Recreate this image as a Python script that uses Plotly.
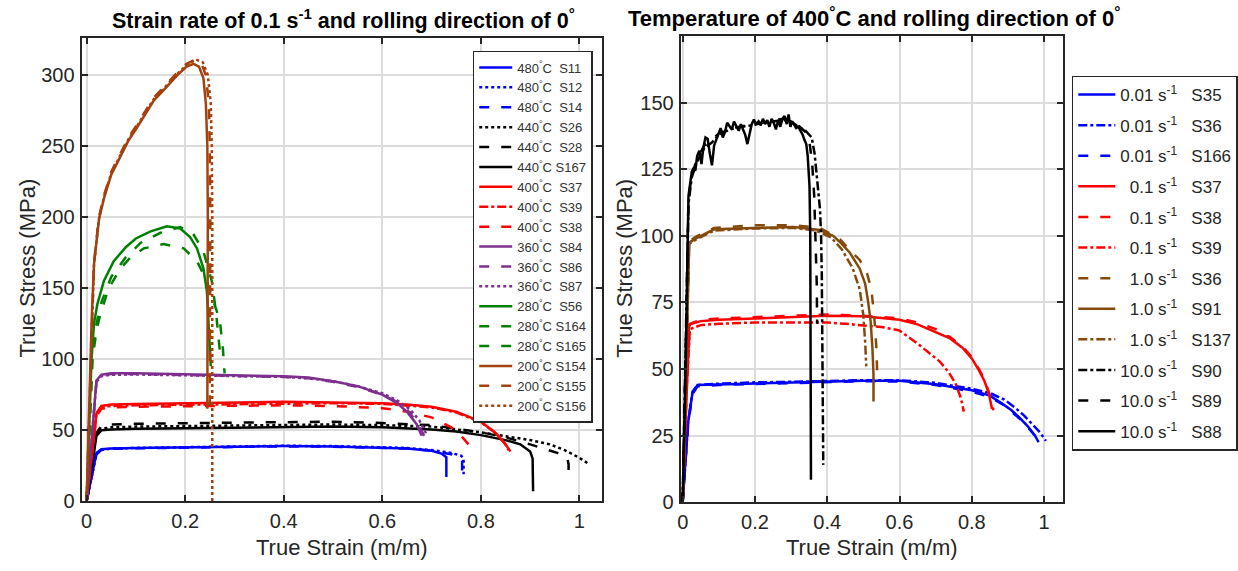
import plotly.graph_objects as go

# ---------------- DATA: left panel (strain rate 0.1 s^-1) ----------------
L_S11_x = [0, 0.02, 0.03, 0.05, 0.1, 0.2, 0.3, 0.4, 0.5, 0.6, 0.65, 0.7, 0.72, 0.73, 0.73]
L_S11_y = [0, 34, 36.5, 37, 37.5, 38, 38.5, 38.8, 38.5, 37.8, 37, 35.5, 33.5, 31, 17]
L_S12_x = [0, 0.02, 0.03, 0.05, 0.1, 0.2, 0.3, 0.4, 0.5, 0.6, 0.65, 0.7, 0.74, 0.76, 0.765, 0.765]
L_S12_y = [0, 33, 36, 37, 37.5, 38, 38.5, 39, 38.8, 38.2, 37.5, 36, 34, 32, 30, 19]
L_S14_x = [0, 0.02, 0.03, 0.05, 0.1, 0.2, 0.3, 0.4, 0.5, 0.6, 0.65, 0.7, 0.74, 0.758, 0.762, 0.762]
L_S14_y = [0, 33, 36, 36.8, 37.2, 37.8, 38.3, 38.6, 38.4, 37.8, 37, 35.5, 33, 31, 28, 21]
L_S26_x = [0, 0.02, 0.03, 0.05, 0.1, 0.2, 0.3, 0.4, 0.5, 0.6, 0.7, 0.8, 0.85, 0.9, 0.94, 0.97, 1.0, 1.02]
L_S26_y = [0, 47, 51, 52, 52.5, 53, 53.5, 54, 54, 53.5, 52.5, 48.5, 46, 43, 40, 36, 30.5, 26]
L_S28_x = [0, 0.02, 0.03, 0.05, 0.1, 0.2, 0.3, 0.4, 0.5, 0.6, 0.7, 0.8, 0.85, 0.9, 0.93, 0.955, 0.97, 0.976, 0.978, 0.978]
L_S28_y = [0, 48, 53, 54, 54.5, 55, 55.5, 56, 56, 55, 53.5, 48.5, 45, 40, 37, 34, 31.5, 29.5, 26, 18]
L_S167_x = [0, 0.02, 0.03, 0.05, 0.1, 0.2, 0.3, 0.4, 0.5, 0.6, 0.7, 0.75, 0.8, 0.85, 0.88, 0.9, 0.905, 0.906]
L_S167_y = [0, 46, 50, 50.5, 51, 51.5, 52, 52.5, 52.5, 52, 50.5, 49, 46.5, 43, 40, 35, 30, 7]
L_S37_x = [0, 0.02, 0.03, 0.05, 0.1, 0.2, 0.3, 0.4, 0.5, 0.6, 0.65, 0.7, 0.75, 0.8, 0.83, 0.85, 0.86]
L_S37_y = [0, 62, 67, 68, 68.5, 69, 69.5, 70, 69.5, 69, 68, 66.5, 63, 56, 48, 40, 35]
L_S39_x = [0, 0.02, 0.03, 0.05, 0.1, 0.2, 0.3, 0.4, 0.5, 0.6, 0.65, 0.7, 0.75, 0.8, 0.83, 0.848, 0.856]
L_S39_y = [0, 61, 66, 67, 67.5, 68, 68.5, 69, 69, 68.5, 67.5, 66, 62.5, 55.5, 48, 41, 36]
L_S38_x = [0, 0.02, 0.03, 0.05, 0.1, 0.2, 0.3, 0.4, 0.5, 0.6, 0.65, 0.7, 0.74, 0.76, 0.775, 0.78]
L_S38_y = [0, 60, 65, 66, 66.5, 67, 67.5, 67.5, 67, 65.5, 63, 59, 52, 46, 40, 37]
L_S84_x = [0, 0.02, 0.03, 0.05, 0.1, 0.2, 0.3, 0.4, 0.45, 0.5, 0.55, 0.6, 0.63, 0.65, 0.67, 0.68]
L_S84_y = [0, 85, 89, 90, 90, 89.5, 89, 88, 87, 84.5, 81, 75, 69, 63, 54, 46]
L_S86_x = [0, 0.02, 0.03, 0.05, 0.1, 0.2, 0.3, 0.4, 0.45, 0.5, 0.55, 0.6, 0.63, 0.65, 0.67, 0.685]
L_S86_y = [0, 84, 88.5, 89.5, 89.5, 89, 88.5, 87.5, 86.5, 84, 80.5, 75, 70, 64.5, 56, 46]
L_S87_x = [0, 0.02, 0.03, 0.05, 0.1, 0.2, 0.3, 0.4, 0.45, 0.5, 0.55, 0.6, 0.63, 0.655, 0.675, 0.69]
L_S87_y = [0, 84, 88, 89, 89.2, 88.8, 88.3, 87.5, 86.5, 84.5, 81, 76, 71, 65, 57, 47]
L_S56_x = [0, 0.01, 0.015, 0.022, 0.035, 0.055, 0.08, 0.1, 0.13, 0.163, 0.19, 0.21, 0.224, 0.237, 0.244, 0.248, 0.252]
L_S56_y = [0, 100, 125, 139, 155, 169, 179, 185, 190, 193.5, 192, 186, 178, 164, 148, 125, 95]
L_S164_x = [0, 0.012, 0.02, 0.028, 0.045, 0.069, 0.09, 0.116, 0.156, 0.197, 0.224, 0.244, 0.257, 0.27, 0.276, 0.28]
L_S164_y = [0, 100, 120, 132, 150, 164, 172, 178, 181, 178, 169, 155, 141, 128, 110, 90]
L_S165_x = [0, 0.012, 0.02, 0.03, 0.05, 0.08, 0.11, 0.15, 0.19, 0.215, 0.237, 0.254, 0.262, 0.268, 0.272]
L_S165_y = [0, 105, 125, 140, 158, 172, 182, 189, 193, 189, 176, 155, 135, 115, 100]
L_S154_x = [0, 0.01, 0.015, 0.025, 0.035, 0.05, 0.069, 0.085, 0.102, 0.12, 0.136, 0.155, 0.17, 0.187, 0.203, 0.217, 0.228, 0.237, 0.242, 0.245, 0.246, 0.246, 0.245]
L_S154_y = [0, 125, 167, 198, 213, 230, 243, 254, 263, 273, 282, 289, 295, 301, 306, 308, 306, 298, 280, 250, 200, 130, 65]
L_S155_x = [0, 0.01, 0.015, 0.025, 0.035, 0.05, 0.069, 0.085, 0.102, 0.12, 0.136, 0.155, 0.17, 0.187, 0.203, 0.22, 0.232, 0.242, 0.248, 0.25, 0.251, 0.251, 0.25]
L_S155_y = [0, 120, 168, 200, 215, 232, 245, 256, 265, 275, 284, 291, 297, 303, 308, 311, 309, 300, 280, 250, 200, 130, 62]
L_S156_x = [0, 0.01, 0.015, 0.025, 0.035, 0.05, 0.069, 0.085, 0.102, 0.12, 0.136, 0.155, 0.17, 0.187, 0.203, 0.222, 0.236, 0.246, 0.252, 0.254, 0.255, 0.255, 0.255]
L_S156_y = [0, 118, 166, 199, 214, 231, 244, 255, 264, 274, 283, 290, 296, 302, 307, 311, 309, 300, 280, 250, 200, 130, 0]

L_names = ["480°C  S11", "480°C  S12", "480°C  S14", "440°C  S26", "440°C  S28", "440°C S167",
           "400°C  S37", "400°C  S39", "400°C  S38", "360°C  S84", "360°C  S86", "360°C  S87",
           "280°C  S56", "280°C S164", "280°C S165", "200°C S154", "200°C S155", "200°C S156"]

# ---------------- DATA: right panel (400 °C) ----------------
R_S35_x = [0, 0.015, 0.027, 0.041, 0.1, 0.2, 0.3, 0.4, 0.5, 0.6, 0.7, 0.8, 0.85, 0.884, 0.91, 0.93, 0.955, 0.975, 0.985]
R_S35_y = [0, 30, 41, 44, 44.2, 44.6, 45, 45.4, 45.6, 45.6, 44.3, 42, 40, 37, 34.5, 32, 28.5, 25, 22.5]
R_S36b_x = [0, 0.015, 0.027, 0.041, 0.1, 0.2, 0.3, 0.4, 0.5, 0.6, 0.7, 0.8, 0.85, 0.89, 0.92, 0.945, 0.97, 0.99, 1.005]
R_S36b_y = [0, 30, 41.5, 44, 44.5, 45, 45.2, 45.6, 45.8, 45.8, 44.8, 42.6, 41, 38.5, 35.5, 32.5, 29, 26, 23]
R_S166_x = [0, 0.015, 0.027, 0.041, 0.1, 0.2, 0.3, 0.4, 0.5, 0.6, 0.7, 0.8, 0.85, 0.888, 0.915, 0.94, 0.962, 0.98, 0.99]
R_S166_y = [0, 29, 40.5, 43.5, 44, 44.4, 44.8, 45.2, 45.4, 45.3, 44, 41.5, 39.5, 36.5, 33.5, 30.5, 27, 24, 22.5]
R_S37_x = [0, 0.01, 0.018, 0.05, 0.1, 0.2, 0.3, 0.4, 0.5, 0.6, 0.65, 0.7, 0.74, 0.774, 0.8, 0.82, 0.835, 0.847, 0.856]
R_S37_y = [0, 40, 66.7, 68, 68.5, 69, 69.5, 70, 69.8, 68.5, 66.8, 64, 61.5, 58, 54, 49.5, 45.5, 41, 35]
R_S38_x = [0, 0.01, 0.02, 0.05, 0.1, 0.2, 0.3, 0.4, 0.5, 0.6, 0.65, 0.7, 0.74, 0.774, 0.8, 0.82, 0.835, 0.848, 0.86]
R_S38_y = [0, 40, 67, 68.5, 69, 69.5, 70, 70.5, 70, 69, 67.5, 65, 62, 58.5, 54.5, 50, 46, 41, 34.5]
R_S39_x = [0, 0.01, 0.02, 0.05, 0.1, 0.2, 0.3, 0.4, 0.45, 0.5, 0.55, 0.6, 0.655, 0.71, 0.735, 0.755, 0.77, 0.778]
R_S39_y = [0, 40, 65, 66.5, 67, 67.5, 67.5, 67.5, 67, 66.5, 65.8, 64.5, 59, 53, 49, 44.6, 39, 34]
R_S36_x = [0, 0.01, 0.018, 0.041, 0.087, 0.197, 0.307, 0.38, 0.435, 0.46, 0.49, 0.51, 0.522, 0.53, 0.536, 0.538]
R_S36_y = [0, 60, 98, 100, 103, 104, 104, 103, 98.8, 95, 91, 86, 80, 70, 58, 49.5]
R_S91_x = [0, 0.01, 0.018, 0.041, 0.087, 0.197, 0.307, 0.38, 0.417, 0.44, 0.462, 0.49, 0.505, 0.513, 0.52, 0.525, 0.528, 0.528]
R_S91_y = [0, 60, 97.5, 99.4, 102.5, 103, 103.4, 102.2, 100, 97, 93.8, 87.7, 82, 75.4, 68, 58, 48, 37.8]
R_S137_x = [0, 0.01, 0.018, 0.041, 0.087, 0.197, 0.307, 0.37, 0.41, 0.44, 0.47, 0.49, 0.5, 0.505, 0.508]
R_S137_y = [0, 60, 97, 99, 102, 102.8, 103, 102, 99.5, 95, 88, 80, 70, 60, 51]
R_S90_x = [0, 0.016, 0.025, 0.04, 0.06, 0.08, 0.1, 0.13, 0.16, 0.19, 0.22, 0.25, 0.28, 0.3, 0.32, 0.34, 0.357, 0.365, 0.371, 0.376, 0.38, 0.383, 0.385, 0.387, 0.389]
R_S90_y = [0, 112, 122, 128, 133, 135, 138, 140, 141, 141.5, 142.5, 143, 143.5, 143, 141, 139.5, 137, 131, 122.5, 116, 110, 100, 85, 50, 14]
R_S89_x = [0, 0.016, 0.025, 0.04, 0.06, 0.08, 0.1, 0.13, 0.16, 0.19, 0.22, 0.25, 0.28, 0.3, 0.32, 0.34, 0.35, 0.358, 0.364, 0.368, 0.371, 0.372]
R_S89_y = [0, 114, 123, 129, 134, 136, 138.5, 140.5, 141, 142, 142.5, 143.5, 144, 143, 141.5, 139, 136, 128, 115, 100, 82, 67]
R_S88_x = [0, 0.008, 0.016, 0.02, 0.025, 0.03, 0.035, 0.04, 0.046, 0.052, 0.057, 0.063, 0.069, 0.075, 0.081,
           0.087, 0.093, 0.099, 0.105, 0.111, 0.117, 0.123, 0.13, 0.136, 0.142, 0.148, 0.155, 0.161, 0.167, 0.173,
           0.179, 0.185, 0.191, 0.197, 0.203, 0.21, 0.216, 0.222, 0.228, 0.234, 0.24, 0.246, 0.252, 0.258, 0.264,
           0.27, 0.276, 0.282, 0.288, 0.293, 0.298, 0.303, 0.308, 0.314, 0.32, 0.326, 0.332, 0.337, 0.342, 0.346,
           0.349, 0.351, 0.353, 0.354, 0.355]
R_S88_y = [0, 50, 115, 120, 124, 125.5, 124.5, 130, 132, 127, 133, 137, 136.5, 131, 126.5,
           134, 136, 138, 140.5, 137, 139, 142.5, 141, 140, 143, 141.5, 139.5, 142, 140, 138,
           134.5, 139, 142, 143.7, 142, 143, 141.5, 144, 142, 143.5, 141, 144, 142.5, 140, 143.5,
           141, 144, 145, 142, 145.6, 141, 143, 142, 140.5, 141, 139.4, 138, 136, 134.5, 130,
           124, 118.5, 100, 60, 8.4]

R_rates = ["0.01", "0.01", "0.01", "0.1", "0.1", "0.1", "1.0", "1.0", "1.0", "10.0", "10.0", "10.0"]
R_ids = ["S35", "S36", "S166", "S37", "S38", "S39", "S36", "S91", "S137", "S90", "S89", "S88"]

x_tickvals = [0, 0.2, 0.4, 0.6, 0.8, 1]
x_ticktext = ["0", "0.2", "0.4", "0.6", "0.8", "1"]
L_ytickvals = [0, 50, 100, 150, 200, 250, 300]
R_ytickvals = [0, 25, 50, 75, 100, 125, 150]

# ---------------- STYLES ----------------
BLUE, BLACK, RED = "#0000FF", "#000000", "#FF0000"
PURPLE, GREEN, BROWN_L, BROWN_R = "#7E2F8E", "#008000", "#A3410F", "#834A0C"
DASH = "10px,12px"
DASHDOT = "9px,3px,3px,3px"

left_series = [
    (L_S11_x, L_S11_y, BLUE, "solid"), (L_S12_x, L_S12_y, BLUE, "dot"), (L_S14_x, L_S14_y, BLUE, DASH),
    (L_S26_x, L_S26_y, BLACK, "dot"), (L_S28_x, L_S28_y, BLACK, DASH), (L_S167_x, L_S167_y, BLACK, "solid"),
    (L_S37_x, L_S37_y, RED, "solid"), (L_S39_x, L_S39_y, RED, DASHDOT), (L_S38_x, L_S38_y, RED, DASH),
    (L_S84_x, L_S84_y, PURPLE, "solid"), (L_S86_x, L_S86_y, PURPLE, DASH), (L_S87_x, L_S87_y, PURPLE, "dot"),
    (L_S56_x, L_S56_y, GREEN, "solid"), (L_S164_x, L_S164_y, GREEN, DASH), (L_S165_x, L_S165_y, GREEN, DASH),
    (L_S154_x, L_S154_y, BROWN_L, "solid"), (L_S155_x, L_S155_y, BROWN_L, DASH), (L_S156_x, L_S156_y, BROWN_L, "dot"),
]
right_series = [
    (R_S35_x, R_S35_y, BLUE, "solid"), (R_S36b_x, R_S36b_y, BLUE, DASHDOT), (R_S166_x, R_S166_y, BLUE, DASH),
    (R_S37_x, R_S37_y, RED, "solid"), (R_S38_x, R_S38_y, RED, DASH), (R_S39_x, R_S39_y, RED, DASHDOT),
    (R_S36_x, R_S36_y, BROWN_R, DASH), (R_S91_x, R_S91_y, BROWN_R, "solid"), (R_S137_x, R_S137_y, BROWN_R, DASHDOT),
    (R_S90_x, R_S90_y, BLACK, DASHDOT), (R_S89_x, R_S89_y, BLACK, DASH), (R_S88_x, R_S88_y, BLACK, "solid"),
]

FONT = "Liberation Sans, Arial, sans-serif"
NB = "\u00a0"

fig = go.Figure()
for i, (xs, ys, col, dash) in enumerate(left_series):
    name = L_names[i].replace("°", "<sup>°</sup>").replace("  ", NB + NB)
    fig.add_trace(go.Scatter(x=xs, y=ys, mode="lines", name=name,
                             line=dict(color=col, width=2.5, dash=dash),
                             legend="legend", legendgroup="L%d" % i,
                             xaxis="x", yaxis="y", hoverinfo="skip"))
for i, (xs, ys, col, dash) in enumerate(right_series):
    rate = R_rates[i]
    pad = NB * 2 if len(rate) == 3 else ""
    name = pad + rate + " s<sup>-1</sup>" + NB * 3 + R_ids[i]
    fig.add_trace(go.Scatter(x=xs, y=ys, mode="lines", name=name,
                             line=dict(color=col, width=2.5, dash=dash),
                             legend="legend2", legendgroup="R%d" % i,
                             xaxis="x2", yaxis="y2", hoverinfo="skip"))

W, H = 1238, 571
def px_x(p): return p / W
def px_y(p): return 1 - p / H

axis_common = dict(showgrid=True, gridcolor="#DCDCDC", gridwidth=1.5, zeroline=False,
                   showline=True, linecolor="#262626", linewidth=2, mirror="allticks",
                   ticks="inside", ticklen=6, tickwidth=1.5, tickcolor="#262626",
                   tickfont=dict(family=FONT, size=20, color="#262626"))

fig.update_layout(
    width=W, height=H, margin=dict(l=0, r=0, t=0, b=0),
    paper_bgcolor="white", plot_bgcolor="white",
    font=dict(family=FONT, color="#262626"),
    xaxis=dict(domain=[px_x(78), px_x(601)], range=[-0.0101, 1.046], anchor="y",
               tickvals=x_tickvals, ticktext=x_ticktext, ticklabelstandoff=1, **axis_common),
    yaxis=dict(domain=[px_y(511), px_y(39)], range=[0, 326], anchor="x",
               tickvals=L_ytickvals, ticklabelstandoff=1, **axis_common),
    xaxis2=dict(domain=[px_x(680), px_x(1064)], range=[-0.0055, 1.052], anchor="y2",
                tickvals=x_tickvals, ticktext=x_ticktext, ticklabelstandoff=1, **axis_common),
    yaxis2=dict(domain=[px_y(512), px_y(37)], range=[0, 175], anchor="x2",
                tickvals=R_ytickvals, ticklabelstandoff=1, **axis_common),
    legend=dict(x=px_x(471), y=px_y(52), xanchor="left", yanchor="top",
                bgcolor="white", bordercolor="#262626", borderwidth=1.5,
                font=dict(family=FONT, size=13, color="#333333"),
                tracegroupgap=0, itemwidth=33),
    legend2=dict(x=px_x(1073), y=px_y(77), xanchor="left", yanchor="top",
                 bgcolor="white", bordercolor="#262626", borderwidth=1.5,
                 font=dict(family=FONT, size=17, color="#262626"),
                 tracegroupgap=5.5, itemwidth=37),
    showlegend=True,
    annotations=[
        dict(text="<b>Strain rate of 0.1 s<sup>-1</sup> and rolling direction of 0<sup>°</sup></b>",
             x=px_x(341), y=px_y(19), xref="paper", yref="paper", showarrow=False,
             xanchor="center", yanchor="middle", font=dict(family=FONT, size=21.5, color="#000000")),
        dict(text="<b>Temperature of 400<sup>°</sup>C and rolling direction of 0<sup>°</sup></b>",
             x=px_x(874), y=px_y(17), xref="paper", yref="paper", showarrow=False,
             xanchor="center", yanchor="middle", font=dict(family=FONT, size=22, color="#000000")),
        dict(text="True Strain (m/m)", x=px_x(340), y=px_y(558), xref="paper", yref="paper",
             showarrow=False, xanchor="center", yanchor="middle", font=dict(family=FONT, size=22, color="#262626")),
        dict(text="True Strain (m/m)", x=px_x(872), y=px_y(558), xref="paper", yref="paper",
             showarrow=False, xanchor="center", yanchor="middle", font=dict(family=FONT, size=22, color="#262626")),
        dict(text="True Stress (MPa)", x=px_x(24), y=px_y(273), xref="paper", yref="paper", textangle=-90,
             showarrow=False, xanchor="center", yanchor="middle", font=dict(family=FONT, size=22, color="#262626")),
        dict(text="True Stress (MPa)", x=px_x(624), y=px_y(273), xref="paper", yref="paper", textangle=-90,
             showarrow=False, xanchor="center", yanchor="middle", font=dict(family=FONT, size=22, color="#262626")),
    ],
)

fig.write_html("out.html", config={"displayModeBar": False},
               post_script="document.body.style.margin='0';document.body.style.padding='0';"
                           "document.body.style.overflow='hidden';")
